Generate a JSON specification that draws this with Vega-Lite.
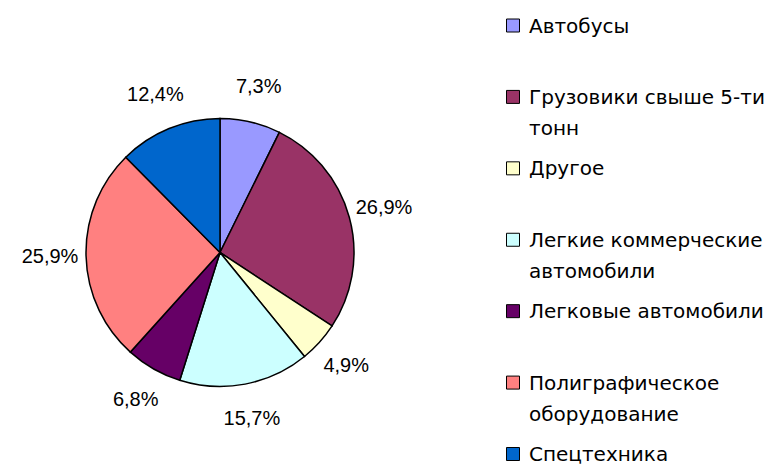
{
  "$schema": "https://vega.github.io/schema/vega-lite/v6.json",
  "padding": {"top": 16, "left": 0, "right": 0, "bottom": 0},
  "background": "white",
  "config": {"view": {"stroke": null}, "font": "Liberation Sans"},
  "data": {"values": [
    {"category": "Автобусы", "value": 7.3},
    {"category": "Грузовики свыше 5-ти тонн", "value": 26.9},
    {"category": "Другое", "value": 4.9},
    {"category": "Легкие коммерческие автомобили", "value": 15.7},
    {"category": "Легковые автомобили", "value": 6.8},
    {"category": "Полиграфическое оборудование", "value": 25.9},
    {"category": "Спецтехника", "value": 12.4}
  ]},
  "spacing": 63,
  "hconcat": [
    {
      "width": 440,
      "height": 427,
      "transform": [
        {"calculate": "replace(format(datum.value, '.1f'), '.', ',') + '%'", "as": "pct"}
      ],
      "encoding": {
        "theta": {"field": "value", "type": "quantitative", "stack": true},
        "order": {"field": "category", "sort": "ascending"},
        "color": {
          "field": "category", "type": "nominal", "legend": null,
          "scale": {
            "domain": ["Автобусы", "Грузовики свыше 5-ти тонн", "Другое", "Легкие коммерческие автомобили", "Легковые автомобили", "Полиграфическое оборудование", "Спецтехника"],
            "range": ["#9999FF", "#993366", "#FFFFCC", "#CCFFFF", "#660066", "#FF8080", "#0066CC"]
          }
        }
      },
      "layer": [
        {"mark": {"type": "arc", "outerRadius": 134, "stroke": "black", "strokeWidth": 1.5}},
        {
          "mark": {"type": "text", "radius": 170, "fontSize": 20, "font": "Liberation Sans", "fill": "black"},
          "encoding": {"text": {"field": "pct"}, "color": {"value": "black"}}
        }
      ]
    },
    {
      "width": 20,
      "height": 427,
      "transform": [
        {"calculate": "split(replace(replace(replace(datum.category, 'свыше 5-ти ', 'свыше 5-ти|'), 'коммерческие ', 'коммерческие|'), 'Полиграфическое ', 'Полиграфическое|'), '|')", "as": "lbl"}
      ],
      "encoding": {
        "y": {
          "field": "category", "type": "nominal", "axis": null,
          "sort": ["Автобусы", "Грузовики свыше 5-ти тонн", "Другое", "Легкие коммерческие автомобили", "Легковые автомобили", "Полиграфическое оборудование", "Спецтехника"],
          "scale": {"type": "point", "range": [-13.5, 415], "padding": 0}
        }
      },
      "layer": [
        {
          "mark": {"type": "point", "shape": "square", "size": 169, "filled": true, "stroke": "black", "strokeWidth": 1, "opacity": 1},
          "encoding": {
            "color": {
              "field": "category", "type": "nominal", "legend": null,
              "scale": {
                "domain": ["Автобусы", "Грузовики свыше 5-ти тонн", "Другое", "Легкие коммерческие автомобили", "Легковые автомобили", "Полиграфическое оборудование", "Спецтехника"],
                "range": ["#9999FF", "#993366", "#FFFFCC", "#CCFFFF", "#660066", "#FF8080", "#0066CC"]
              }
            }
          }
        },
        {
          "mark": {"type": "text", "align": "left", "baseline": "alphabetic", "dx": 16, "dy": 7, "fontSize": 20, "font": "DejaVu Sans", "lineHeight": 31, "fill": "black"},
          "encoding": {"text": {"field": "lbl"}}
        }
      ]
    }
  ]
}
